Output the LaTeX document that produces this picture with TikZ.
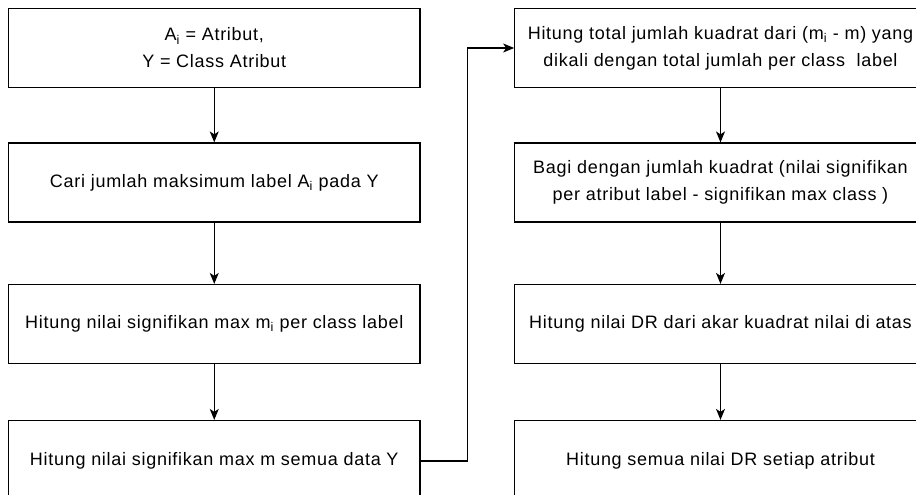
\documentclass[tikz,border=0pt]{standalone}
\usepackage{fontspec}
\setmainfont{Liberation Sans}[LetterSpace=4]
\usetikzlibrary{arrows.meta}
\begin{document}
\begin{tikzpicture}[x=1pt,y=-1pt,
  stepbox/.style={draw=black, line width=1.2pt, fill=white, rectangle,
    minimum width=411.5pt, minimum height=79pt, inner sep=0pt,
    align=center, font=\fontsize{18}{27}\selectfont},
  flow/.style={draw=black, line width=1.2pt,
    -{Stealth[length=11pt, width=9pt, inset=3pt]}}]
\useasboundingbox (0,0) rectangle (916,495);

% left column
\node[stepbox] (a1) at (214.25,48) {A\textsubscript{i} = Atribut,\\Y = Class Atribut};
\node[stepbox] (a2) at (214.25,182.5) {Cari jumlah maksimum label A\textsubscript{i} pada Y};
\node[stepbox] (a3) at (214.25,324) {Hitung nilai signifikan max m\textsubscript{i} per class label};
\node[stepbox, minimum height=81pt] (a4) at (214.25,461) {Hitung nilai signifikan max m semua data Y};

% right column
\node[stepbox] (b1) at (720.5,48) {Hitung total jumlah kuadrat dari (m\textsubscript{i} - m) yang\\dikali dengan total jumlah per class\ \ label};
\node[stepbox] (b2) at (720.5,182.5) {Bagi dengan jumlah kuadrat (nilai signifikan\\per atribut label - signifikan max class )};
\node[stepbox] (b3) at (720.5,324) {Hitung nilai DR dari akar kuadrat nilai di atas};
\node[stepbox, minimum height=81pt] (b4) at (720.5,461) {Hitung semua nilai DR setiap atribut};

\coordinate (jx) at (467.3,0);

\draw[flow] (a1) -- (a2);
\draw[flow] (a2) -- (a3);
\draw[flow] (a3) -- (a4);
\draw[flow] (a4.east) -- (a4.east -| jx) -- (b1.west -| jx) -- (b1.west);
\draw[flow] (b1) -- (b2);
\draw[flow] (b2) -- (b3);
\draw[flow] (b3) -- (b4);
\end{tikzpicture}
\end{document}
